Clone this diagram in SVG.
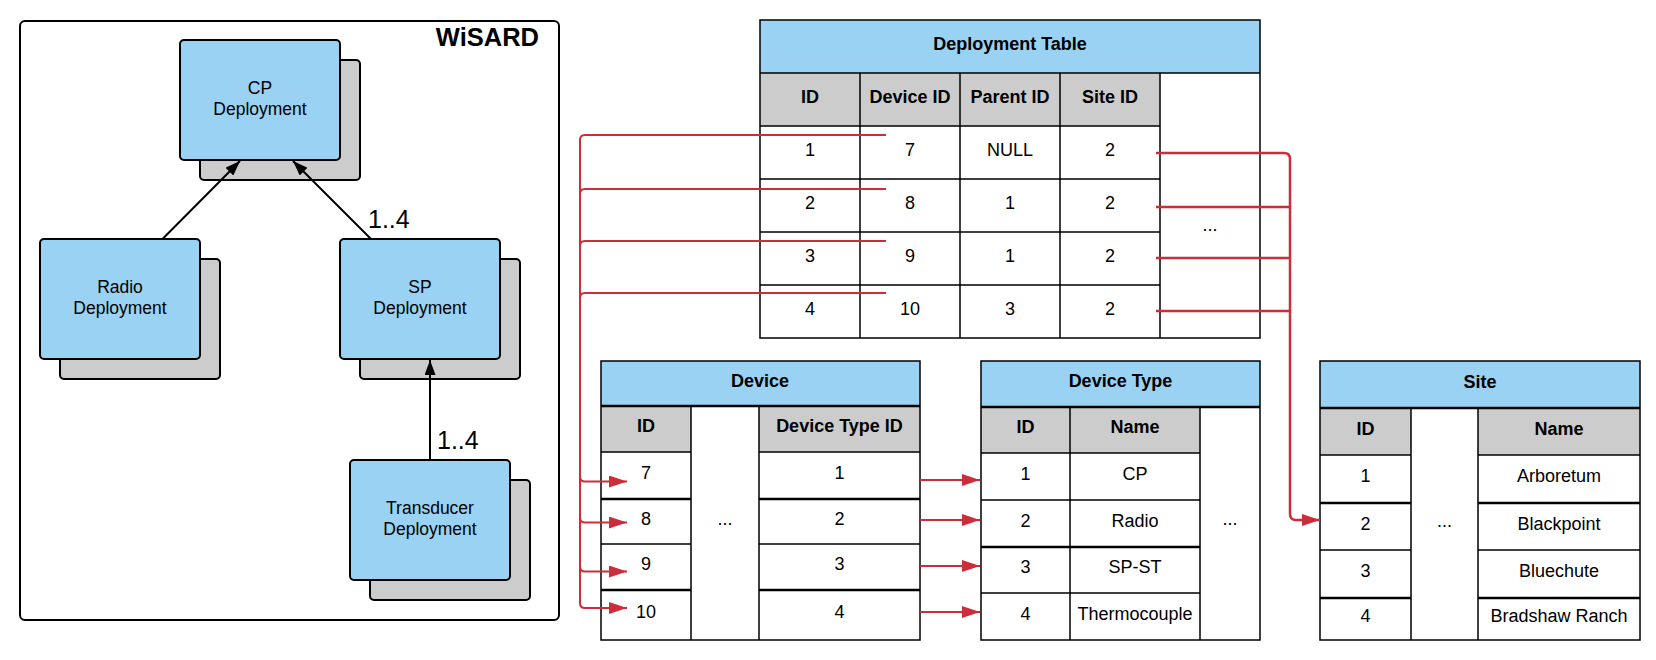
<svg xmlns="http://www.w3.org/2000/svg" width="1656" height="660" viewBox="0 0 1656 660">
<defs>
<style>
text{font-family:"Liberation Sans",Arial,sans-serif;fill:#000}
.bx{fill:#9ad2f3;stroke:#000;stroke-width:2}
.sh{fill:#cccccc;stroke:#000;stroke-width:2}
.bt{font-size:17.5px;text-anchor:middle}
.lab{font-size:25px}
.band{fill:#9ad2f3}
.gray{fill:#cccccc}
.t{font-size:18px;text-anchor:middle}
.tb{font-size:18px;text-anchor:middle;font-weight:bold}
.g{stroke:#000;stroke-width:1.5;fill:none}
.gk{stroke:#000;stroke-width:2.5;fill:none}
.blk{stroke:#000;stroke-width:2;fill:none}
.red{stroke:#cc2d3b;stroke-width:2;fill:none}
.redk{stroke:#cc2d3b;stroke-width:2.5;fill:none}
</style>
<marker id="ba" markerWidth="15" markerHeight="11" refX="15" refY="5.5" orient="auto" markerUnits="userSpaceOnUse"><path d="M0,0 L15,5.5 L0,11 z" fill="#000"/></marker>
<marker id="ra" markerWidth="18" markerHeight="12" refX="18" refY="6" orient="auto" markerUnits="userSpaceOnUse"><path d="M0,0 L18,6 L0,12 z" fill="#cc2d3b"/></marker>
</defs>
<rect width="1656" height="660" fill="#fff"/>

<g id="wisard">
<rect x="20" y="21" width="539" height="599" rx="5" fill="#fff" stroke="#000" stroke-width="2"/>
<text x="539" y="46" font-size="25.5" font-weight="bold" text-anchor="end">WiSARD</text>
</g>

<g id="cp-deployment">
<rect class="sh" x="200" y="60" width="160" height="120" rx="4"/>
<rect class="bx" x="180" y="40" width="160" height="120" rx="4"/>
<text class="bt" x="260" y="93.5">CP</text>
<text class="bt" x="260" y="115">Deployment</text>
</g>

<g id="radio-deployment">
<rect class="sh" x="60" y="259" width="160" height="120" rx="4"/>
<rect class="bx" x="40" y="239" width="160" height="120" rx="4"/>
<text class="bt" x="120" y="292.5">Radio</text>
<text class="bt" x="120" y="314">Deployment</text>
</g>

<g id="sp-deployment">
<rect class="sh" x="360" y="259" width="160" height="120" rx="4"/>
<rect class="bx" x="340" y="239" width="160" height="120" rx="4"/>
<text class="bt" x="420" y="292.5">SP</text>
<text class="bt" x="420" y="314">Deployment</text>
</g>

<g id="transducer-deployment">
<rect class="sh" x="370" y="480" width="160" height="120" rx="4"/>
<rect class="bx" x="350" y="460" width="160" height="120" rx="4"/>
<text class="bt" x="430" y="513.5">Transducer</text>
<text class="bt" x="430" y="535">Deployment</text>
</g>

<g id="deployment-table">
<rect class="band" x="760" y="20" width="500" height="53"/>
<rect class="gray" x="760" y="73" width="400" height="53"/>
<rect class="g" x="760" y="20" width="500" height="318"/>
<path class="g" d="M760 73H1260M760 126H1160M760 179H1160M760 232H1160M760 285H1160M860 73V338M960 73V338M1060 73V338M1160 73V338"/>
<text class="tb" x="1010" y="50">Deployment Table</text>
<text class="tb" x="810" y="103">ID</text>
<text class="tb" x="910" y="103">Device ID</text>
<text class="tb" x="1010" y="103">Parent ID</text>
<text class="tb" x="1110" y="103">Site ID</text>
<text class="t" x="810" y="156">1</text><text class="t" x="910" y="156">7</text><text class="t" x="1010" y="156">NULL</text><text class="t" x="1110" y="156">2</text>
<text class="t" x="810" y="209">2</text><text class="t" x="910" y="209">8</text><text class="t" x="1010" y="209">1</text><text class="t" x="1110" y="209">2</text>
<text class="t" x="810" y="262">3</text><text class="t" x="910" y="262">9</text><text class="t" x="1010" y="262">1</text><text class="t" x="1110" y="262">2</text>
<text class="t" x="810" y="315">4</text><text class="t" x="910" y="315">10</text><text class="t" x="1010" y="315">3</text><text class="t" x="1110" y="315">2</text>
<text class="t" x="1210" y="231">...</text>
</g>

<g id="device-table">
<rect class="band" x="601" y="361" width="319" height="45"/>
<rect class="gray" x="601" y="406" width="90" height="46"/>
<rect class="gray" x="759" y="406" width="161" height="46"/>
<rect class="g" x="601" y="361" width="319" height="279"/>
<path class="gk" d="M601 406H920M601 499H691M759 499H920M601 590H691M759 590H920"/>
<path class="g" d="M601 452H691M759 452H920M601 544H691M759 544H920M691 406V640M759 406V640"/>
<text class="tb" x="760" y="386.5">Device</text>
<text class="tb" x="646" y="432">ID</text>
<text class="tb" x="839.5" y="432">Device Type ID</text>
<text class="t" x="646" y="478.5">7</text><text class="t" x="839.5" y="478.5">1</text>
<text class="t" x="646" y="524.5">8</text><text class="t" x="839.5" y="524.5">2</text>
<text class="t" x="646" y="570">9</text><text class="t" x="839.5" y="570">3</text>
<text class="t" x="646" y="618">10</text><text class="t" x="839.5" y="618">4</text>
<text class="t" x="725" y="525">...</text>
</g>

<g id="device-type-table">
<rect class="band" x="981" y="361" width="279" height="46"/>
<rect class="gray" x="981" y="407" width="219" height="46"/>
<rect class="g" x="981" y="361" width="279" height="279"/>
<path class="gk" d="M981 407H1260M981 547H1200"/>
<path class="g" d="M981 453H1200M981 500H1200M981 593H1200M1070 407V640M1200 407V640"/>
<text class="tb" x="1120.5" y="387">Device Type</text>
<text class="tb" x="1025.5" y="433">ID</text>
<text class="tb" x="1135" y="433">Name</text>
<text class="t" x="1025.5" y="480">1</text><text class="t" x="1135" y="480">CP</text>
<text class="t" x="1025.5" y="527">2</text><text class="t" x="1135" y="527">Radio</text>
<text class="t" x="1025.5" y="573">3</text><text class="t" x="1135" y="573">SP-ST</text>
<text class="t" x="1025.5" y="620">4</text><text class="t" x="1135" y="620">Thermocouple</text>
<text class="t" x="1230" y="525">...</text>
</g>

<g id="site-table">
<rect class="band" x="1320" y="361" width="320" height="47"/>
<rect class="gray" x="1320" y="408" width="91" height="47"/>
<rect class="gray" x="1478" y="408" width="162" height="47"/>
<rect class="g" x="1320" y="361" width="320" height="279"/>
<path class="gk" d="M1320 408H1640M1320 503H1411M1478 503H1640M1320 598H1411M1478 598H1640"/>
<path class="g" d="M1320 455H1411M1478 455H1640M1320 550H1411M1478 550H1640M1411 408V640M1478 408V640"/>
<text class="tb" x="1480" y="387.5">Site</text>
<text class="tb" x="1365.5" y="434.5">ID</text>
<text class="tb" x="1559" y="434.5">Name</text>
<text class="t" x="1365.5" y="482">1</text><text class="t" x="1559" y="482">Arboretum</text>
<text class="t" x="1365.5" y="529.5">2</text><text class="t" x="1559" y="529.5">Blackpoint</text>
<text class="t" x="1365.5" y="577">3</text><text class="t" x="1559" y="577">Bluechute</text>
<text class="t" x="1365.5" y="622">4</text><text class="t" x="1559" y="622">Bradshaw Ranch</text>
<text class="t" x="1444.5" y="527">...</text>
</g>

<g id="connectors">
<line class="blk" x1="162.5" y1="239" x2="240" y2="161" marker-end="url(#ba)"/>
<line class="blk" x1="371" y1="239" x2="293" y2="161" marker-end="url(#ba)"/>
<line class="blk" x1="430" y1="460" x2="430" y2="360" marker-end="url(#ba)"/>
<text class="lab" x="368" y="228">1..4</text>
<text class="lab" x="437" y="449">1..4</text>

<path class="red" d="M886 135H585Q580 135 580 140V476.5Q580 481.5 585 481.5H627" marker-end="url(#ra)"/>
<path class="red" d="M886 189H585Q580 189 580 194V517.5Q580 522.5 585 522.5H627" marker-end="url(#ra)"/>
<path class="red" d="M886 241H585Q580 241 580 246V566.5Q580 571.5 585 571.5H627" marker-end="url(#ra)"/>
<path class="red" d="M886 293H585Q580 293 580 298V603Q580 608 585 608H627" marker-end="url(#ra)"/>

<path class="red" d="M920 480H980" marker-end="url(#ra)"/>
<path class="red" d="M920 520H980" marker-end="url(#ra)"/>
<path class="red" d="M920 566H980" marker-end="url(#ra)"/>
<path class="red" d="M920 612H980" marker-end="url(#ra)"/>

<path class="redk" d="M1156 153H1284Q1290 153 1290 159V514Q1290 520 1296 520H1320" marker-end="url(#ra)"/>
<path class="redk" d="M1156 207H1290M1156 258H1290M1156 311H1290"/>
</g>
</svg>
